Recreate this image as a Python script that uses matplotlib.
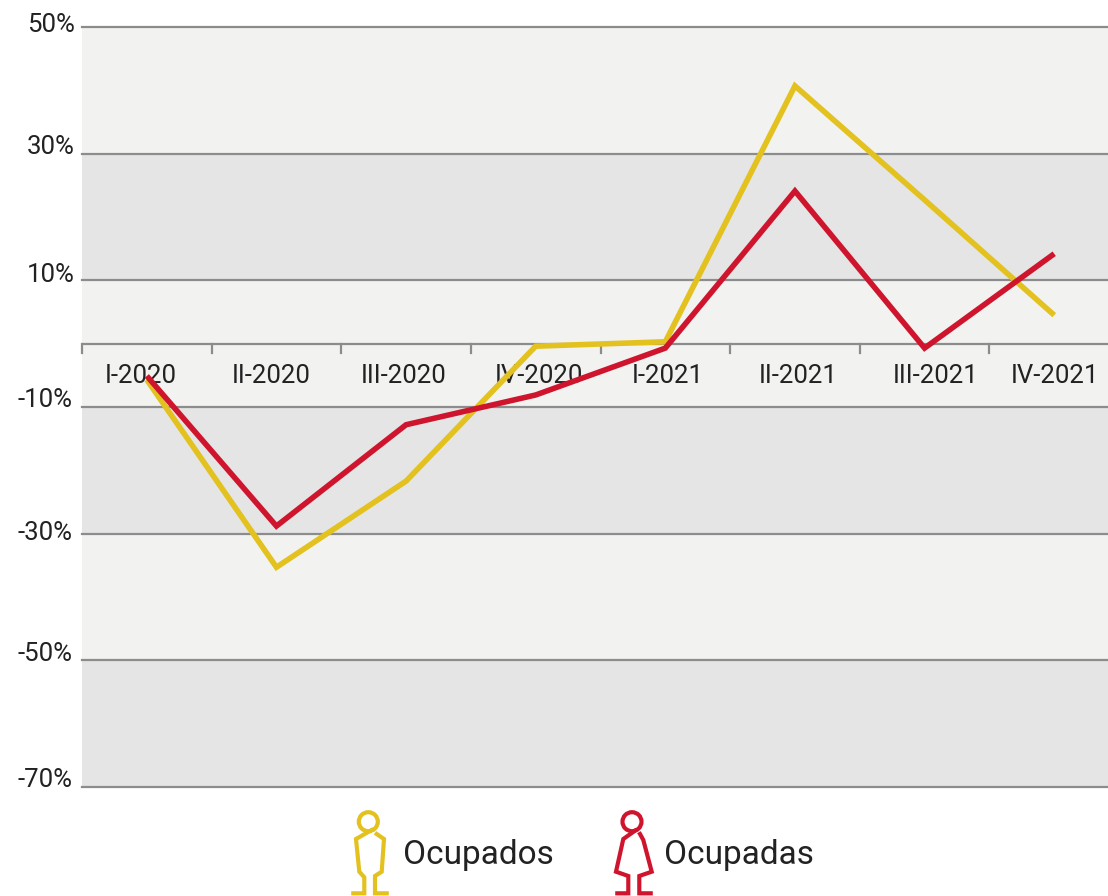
import matplotlib
matplotlib.use('Agg')
import matplotlib.pyplot as plt
from matplotlib.patches import Circle

plt.rcParams['font.family'] = ['Roboto', 'DejaVu Sans']

# Data
quarters = ['I-2020', 'II-2020', 'III-2020', 'IV-2020', 'I-2021', 'II-2021', 'III-2021', 'IV-2021']
ocupados = [-5.7, -35.3, -21.7, -0.4, 0.3, 40.7, 22.7, 4.5]
ocupadas = [-5.1, -28.8, -12.8, -8.1, -0.7, 24.1, -0.7, 14.2]
y_ticks = [50, 30, 10, -10, -30, -50, -70]
# the labels in the original are not evenly placed, shifts in pixels
y_label_shift = [2, 7, 5, 7, 1, 6, 7]
y_label_right = [-7, -7, -7, -10, -10, -10, -10]
x_label_shift = [-6.5, -5, -2, 3, 2, 3, 11, 1]

YELLOW = '#e3c11f'
RED = '#cf152d'
GREY = '#8c8c8c'
LIGHT = '#f2f2f1'
DARK = '#e5e5e5'
TEXT = '#222222'

fig = plt.figure(figsize=(11.08, 8.96), dpi=100)
ax = fig.add_axes([82 / 1108, 1 - 787 / 896, 1 - 82 / 1108, 760 / 896])
ax.set_xlim(-0.5, 7.415)
ax.set_ylim(-70, 50)

# alternating bands between the grid lines
for i in range(len(y_ticks) - 1):
    ax.axhspan(y_ticks[i + 1], y_ticks[i], color=LIGHT if i % 2 == 0 else DARK, lw=0, zorder=0)
for y in y_ticks:
    ax.axhline(y, color=GREY, lw=1.6, zorder=1, clip_on=False)

# category axis at zero, ticks pointing down
ax.axhline(0, color=GREY, lw=1.6, zorder=1)
for i in range(len(quarters)):
    ax.plot([i - 0.5, i - 0.5], [0, -1.4], color=GREY, lw=1.6, zorder=1, clip_on=False)
    ax.annotate(quarters[i], xy=(i, -5.15), xytext=(x_label_shift[i], 0), textcoords='offset pixels',
                ha='center', va='center', fontsize=18.5, color=TEXT, zorder=2)

ax.plot(range(8), ocupados, color=YELLOW, lw=4, solid_joinstyle='miter', solid_capstyle='butt', zorder=3)
ax.plot(range(8), ocupadas, color=RED, lw=4, solid_joinstyle='miter', solid_capstyle='butt', zorder=4)

ax.set_xticks([])
ax.set_yticks([])
for s in ax.spines.values():
    s.set_visible(False)

for y, shift, right in zip(y_ticks, y_label_shift, y_label_right):
    ax.annotate(f'{y}%', xy=(0, y), xycoords=('axes fraction', 'data'),
                xytext=(right, shift), textcoords='offset pixels', ha='right', va='center',
                fontsize=18.5, color=TEXT, annotation_clip=False)

# legend icons, in pixel coordinates of the figure
over = fig.add_axes([0, 0, 1, 1], facecolor='none')
over.set_xlim(0, 1108)
over.set_ylim(896, 0)
over.axis('off')


def person(cx, left, right, color):
    over.add_patch(Circle((cx, 821.7), 9.5, fill=False, ec=color, lw=3))
    over.plot(*zip(*left), color=color, lw=3, solid_joinstyle='miter')
    over.plot(*zip(*right), color=color, lw=3, solid_joinstyle='miter')


person(368.3,
       [(371.7, 830), (356, 839), (359.3, 871.7), (364.3, 877.3), (364.3, 893.3), (353.3, 893.3)],
       [(376.7, 834), (384, 839), (381.7, 871.7), (375, 876), (375, 893.3), (386.7, 893.3)],
       YELLOW)
person(632,
       [(635, 830.7), (623.3, 839), (616, 871.7), (628.3, 876), (628.3, 893.3), (617.3, 893.3)],
       [(640, 834), (643.3, 840), (651.7, 871.7), (639.3, 876), (639.3, 893.3), (650.7, 893.3)],
       RED)

over.text(403, 864, 'Ocupados', fontsize=24, color=TEXT, va='baseline')
over.text(664, 864, 'Ocupadas', fontsize=24, color=TEXT, va='baseline')

fig.savefig('out.png', dpi=100)
